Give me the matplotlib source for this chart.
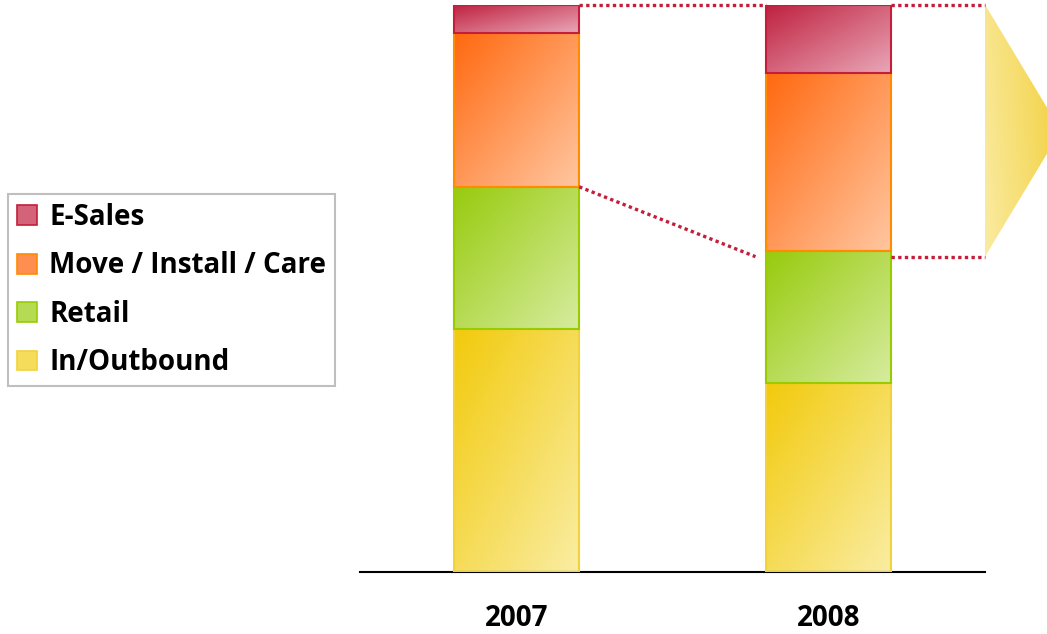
import numpy as np
import matplotlib.pyplot as plt
from matplotlib.colors import LinearSegmentedColormap
from matplotlib.patches import Patch, Polygon

# share of each channel per year (%), stacked bottom to top
years = ["2007", "2008"]
segments = ["In/Outbound", "Retail", "Move / Install / Care", "E-Sales"]
in_outbound = [42.8, 33.4]
retail = [25.1, 23.2]
move_install_care = [27.1, 31.4]
e_sales = [5.0, 12.0]

edge_colors = ["#F2D23C", "#99CC00", "#FF8C00", "#C41E3A"]
grad_colors = [("#F2CA0C", "#FAEDA2"), ("#98CB0E", "#D6EC9E"),
               ("#FF6910", "#FFC6A0"), ("#BF213F", "#E9A6B7")]
legend_colors = ["#F5DC5A", "#B5DB55", "#FF8F50", "#D4637A"]
dot_color = "#C41E3A"

plt.rcParams["font.family"] = ["Open Sans", "DejaVu Sans"]

W, H = 1047, 634
fig = plt.figure(figsize=(W / 100, H / 100), dpi=100)
ax = fig.add_axes([360 / W, 61.7 / H, 687 / W, 567.7 / H])

x = np.arange(len(years))
width = 0.40
n = 64
yy, xx = np.mgrid[0:1:n * 1j, 0:1:n * 1j]
diag = (xx + yy) / 2

series = [in_outbound, retail, move_install_care, e_sales]
bottom = np.zeros(len(years))
tops = []
for vals, edge, (c0, c1) in zip(series, edge_colors, grad_colors):
    cmap = LinearSegmentedColormap.from_list("g", [c0, c1])
    bars = ax.bar(x, vals, width, bottom=bottom, facecolor="none",
                  edgecolor=edge, linewidth=1.5, zorder=3)
    for rect in bars:
        x0, y0 = rect.get_x(), rect.get_y()
        im = ax.imshow(diag, cmap=cmap, extent=(x0, x0 + rect.get_width(), y0, y0 + rect.get_height()),
                       aspect="auto", interpolation="bilinear", zorder=2)
        im.set_clip_path(rect)
    bottom = bottom + np.array(vals)
    tops.append(bottom.copy())

x_left, x_end, x_right = -0.5026, 1.5006, 1.6994
total = tops[-1]
retail_top = tops[1]
r07 = x[0] + width / 2
l08 = x[1] - width / 2
r08 = x[1] + width / 2
low = retail_top[1] - 1.0  # connector sits a little under the 2008 retail top

dots = dict(color=dot_color, linewidth=2.4, linestyle=(0, (1, 1)), clip_on=False, zorder=4)
ax.plot([r07, l08], [total[0], total[1]], **dots)
ax.plot([r07, l08 - 0.035], [retail_top[0], low], **dots)
ax.plot([r08, x_end], [total[1], total[1]], **dots)
ax.plot([r08, x_end], [low, low], **dots)

# chevron pointing right, spanning the 2008 top two segments
tip_x = 1.744
chev = Polygon([(x_end, total[1]), (tip_x, (total[1] + low) / 2), (x_end, low)],
               closed=True, facecolor="none", edgecolor="none")
ax.add_patch(chev)
chev_cmap = LinearSegmentedColormap.from_list("chev", ["#FAEBA0", "#F2CF3A"])
im = ax.imshow(0.8 * xx + 0.2 * (1 - yy), cmap=chev_cmap,
               extent=(x_end, tip_x, low, total[1]),
               aspect="auto", interpolation="bilinear", zorder=2)
im.set_clip_path(chev)

ax.set_xlim(x_left, x_right)
ax.set_ylim(0, 100)
for side in ["top", "left", "right"]:
    ax.spines[side].set_visible(False)
ax.spines["bottom"].set_bounds(x_left, x_end)
ax.spines["bottom"].set_linewidth(1.5)
ax.set_yticks([])
ax.set_xticks(x)
ax.set_xticklabels(years, fontsize=20, fontweight="bold")
ax.tick_params(axis="x", length=0, pad=23)

handles = [Patch(facecolor=c, edgecolor=e, linewidth=1.2)
           for c, e in zip(legend_colors[::-1], edge_colors[::-1])]
leg = fig.legend(handles, segments[::-1], loc="upper left",
                 bbox_to_anchor=(8 / W, 1 - 194 / H), frameon=True, fancybox=False,
                 edgecolor="#BFBFBF", framealpha=1,
                 prop=dict(weight="bold", size=20),
                 handlelength=0.72, handleheight=0.72, handletextpad=0.45,
                 labelspacing=0.7, borderpad=0.32, borderaxespad=0)
leg.get_frame().set_linewidth(1.5)

fig.savefig("out.png", dpi=100)
